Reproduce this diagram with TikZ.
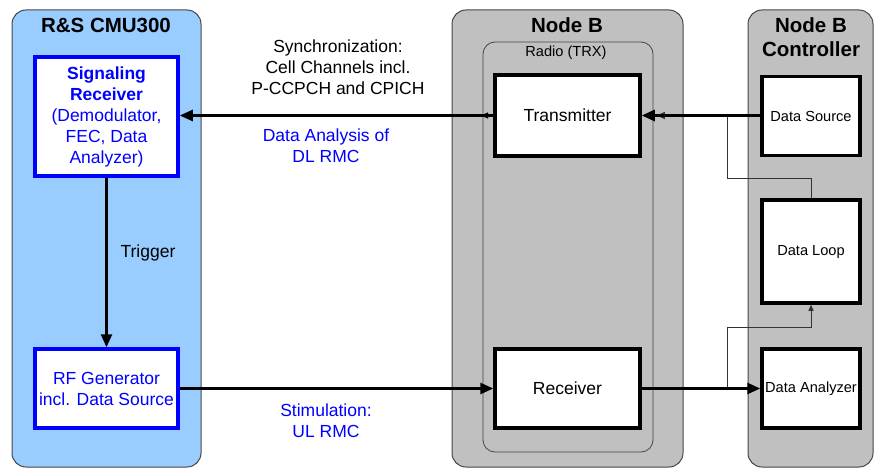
\documentclass[tikz,border=0pt]{standalone}
\usepackage{fontspec}
\setmainfont{Liberation Sans}
\usepackage{tikz}
\usetikzlibrary{arrows.meta,calc}
\definecolor{cmublue}{RGB}{153,204,255}
\definecolor{nodegray}{RGB}{192,192,192}
\definecolor{framegray}{RGB}{70,70,70}
\newcommand\unitpanel[4]{%
\filldraw[fill=#1, draw=framegray, line width=1pt, rounded corners=14pt] (#2,10) rectangle (#3,#4);
}
\newcommand\bigtext{\fontsize{17.5}{21}\selectfont}
\newcommand\smalltext{\fontsize{14.6}{18}\selectfont}

\begin{document}
\begin{tikzpicture}[x=1pt,y=-1pt,
	blockbox/.style={draw, line width=3.5pt, fill=white, align=center, inner sep=0pt},
	cmubox/.style={blockbox, draw=blue, text=blue, font=\bigtext, minimum width=143pt},
	trxbox/.style={blockbox, font=\bigtext, minimum width=145pt, minimum height=81pt},
	ctrlbox/.style={blockbox, font=\smalltext, minimum width=98pt},
	title/.style={font=\fontsize{20.5}{24}\selectfont\bfseries, align=center},
	bigarrow/.style={line width=2.6pt, -{Triangle[length=13pt,width=11pt]}},
	thinarrow/.style={line width=0.9pt, draw=black!80, -{Triangle[length=6pt,width=5pt]}}]
	%% frame of the whole picture
	\useasboundingbox (0,0) rectangle (875,468);
	
	%% the three units
	\unitpanel{cmublue}{12}{201}{467}
	\unitpanel{nodegray}{452}{683}{467}
	\unitpanel{nodegray}{748}{873}{467}
	\draw[draw=framegray, line width=0.8pt, rounded corners=12pt] (483,42) rectangle (653,452);
	
	\node[title] (cmu) at (106,25) {R\&S CMU300};
	\node[title] (nodeb) at (567,25) {Node B};
	\node[title] (ctrl) at (811,37) {Node B\\Controller};
	\node[font=\smalltext] (radio) at (566,53) {Radio (TRX)};
	
	%% R&S CMU300
	\node[cmubox, minimum height=119pt] (sigrx) at (106.5,116.5)
		{\textbf{Signaling}\\\textbf{Receiver}\\(Demodulator,\\FEC, Data\\Analyzer)};
	\node[cmubox, minimum height=79pt] (rfgen) at (106.5,388.5)
		{RF Generator\\incl. Data Source};
	
	%% Node B
	\node[trxbox] (tx) at (567.5,115.5) {Transmitter};
	\node[trxbox, minimum height=79pt] (rx) at (567.5,388.5) {Receiver};
	
	%% Node B Controller
	\node[ctrlbox, minimum height=79pt] (dsrc) at (811,116) {Data Source};
	\node[ctrlbox, minimum height=103pt] (dloop) at (811,251.5) {Data Loop};
	\node[ctrlbox, minimum height=79pt] (dana) at (811,388.5) {Data Analyzer};
	
	\coordinate (radioedge) at (481,115.5);
	\coordinate (jtop) at (727,178);
	\coordinate (jbot) at (727,327);
	
	%% connectors
	\draw[thinarrow, -{Triangle[length=8pt,width=7pt]}] (dloop.north) |- (jtop) |- ([xshift=15pt]tx.east);
	\draw[thinarrow] (jbot |- rx.east) -- (jbot) -| (dloop.south);
	\draw[bigarrow] (sigrx) -- (rfgen);
	\draw[bigarrow] (tx.west) -- (sigrx.east |- tx.west);
	\draw[thinarrow, draw=black, -{Triangle[length=7pt,width=6pt]}] (tx.west) -- (radioedge);
	\draw[bigarrow] (dsrc.west |- tx.east) -- (tx.east);
	\draw[bigarrow] (rfgen.east) -- (rx.west);
	\draw[bigarrow] (rx.east) -- (dana.west);
	
	%% labels
	\node[font=\bigtext, align=center] (trig) at (148,253) {Trigger};
	\node[font=\bigtext, align=center] (sync) at (338,67)
		{Synchronization:\\Cell Channels incl.\\P-CCPCH and CPICH};
	\node[font=\bigtext, align=center, text=blue] (dlrmc) at (326,146)
		{Data Analysis of\\DL RMC};
	\node[font=\bigtext, align=center, text=blue] (ulrmc) at (326,421)
		{Stimulation:\\UL RMC};
\end{tikzpicture}
\end{document}
